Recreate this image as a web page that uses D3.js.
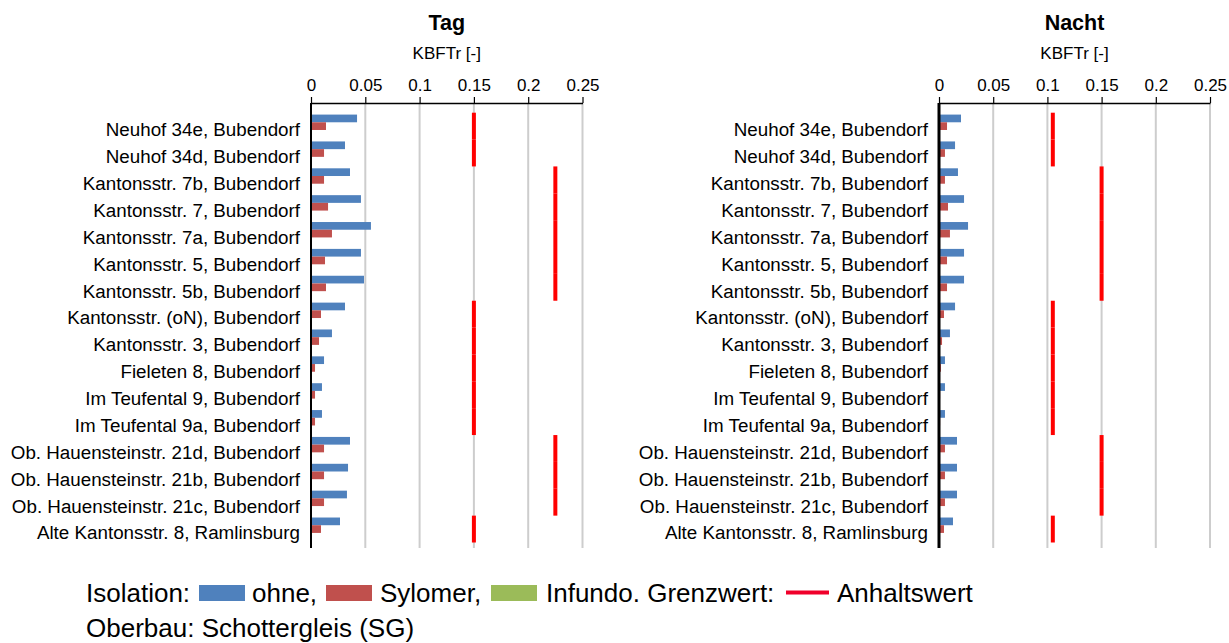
<!DOCTYPE html>
<html>
<head>
<meta charset="utf-8">
<script src="https://cdn.jsdelivr.net/npm/d3@7"></script>
<style>
  body { margin: 0; background: #fff; }
  svg { display: block; }
  text { font-family: "Liberation Sans", Arial, sans-serif; fill: #000; }
</style>
</head>
<body>
<svg id="chart" width="1229" height="643"></svg>
<script>
const categories = [
  "Neuhof 34e, Bubendorf",
  "Neuhof 34d, Bubendorf",
  "Kantonsstr. 7b, Bubendorf",
  "Kantonsstr. 7, Bubendorf",
  "Kantonsstr. 7a, Bubendorf",
  "Kantonsstr. 5, Bubendorf",
  "Kantonsstr. 5b, Bubendorf",
  "Kantonsstr. (oN), Bubendorf",
  "Kantonsstr. 3, Bubendorf",
  "Fieleten 8, Bubendorf",
  "Im Teufental 9, Bubendorf",
  "Im Teufental 9a, Bubendorf",
  "Ob. Hauensteinstr. 21d, Bubendorf",
  "Ob. Hauensteinstr. 21b, Bubendorf",
  "Ob. Hauensteinstr. 21c, Bubendorf",
  "Alte Kantonsstr. 8, Ramlinsburg"
];
const seriesNames = ["ohne", "Sylomer", "Infundo"];
const tagOhne     = [0.0424,0.0313,0.0359,0.0460,0.0552,0.0460,0.0488,0.0313,0.0193,0.0120,0.0101,0.0101,0.0359,0.0341,0.0331,0.0267];
const tagSylomer  = [0.0138,0.0120,0.0120,0.0157,0.0193,0.0129,0.0138,0.0092,0.0074,0.0037,0.0037,0.0037,0.0120,0.0120,0.0120,0.0092];
const tagInfundo  = [0,0,0,0,0,0,0,0,0,0,0,0,0,0,0,0];
const tagAnhalt   = [0.15,0.15,0.225,0.225,0.225,0.225,0.225,0.15,0.15,0.15,0.15,0.15,0.225,0.225,0.225,0.15];
const nachtOhne    = [0.0203,0.0148,0.0175,0.0231,0.0268,0.0231,0.0231,0.0148,0.0101,0.0055,0.0055,0.0055,0.0166,0.0166,0.0166,0.0129];
const nachtSylomer = [0.0074,0.0055,0.0055,0.0083,0.0101,0.0074,0.0074,0.0046,0.0028,0.0018,0.0010,0.0010,0.0055,0.0055,0.0055,0.0046];
const nachtInfundo = [0,0,0,0,0,0,0,0,0,0,0,0,0,0,0,0];
const nachtAnhalt  = [0.105,0.105,0.15,0.15,0.15,0.15,0.15,0.105,0.105,0.105,0.105,0.105,0.15,0.15,0.15,0.105];
const tickValues = [0, 0.05, 0.1, 0.15, 0.2, 0.25];
const tickLabels = ["0", "0.05", "0.1", "0.15", "0.2", "0.25"];
const titles = ["Tag", "Nacht"];
const axisTitle = "KBFTr [-]";

const colors = { ohne: "#4F81BD", Sylomer: "#C0504D", Infundo: "#9BBB59", line: "#FF0000" };
const svg = d3.select("#chart");

const panels = [
  { title: titles[0], x0: 311, x1: 582.5, series: [tagOhne, tagSylomer, tagInfundo], anhalt: tagAnhalt, axisW: 2 },
  { title: titles[1], x0: 939, x1: 1210, series: [nachtOhne, nachtSylomer, nachtInfundo], anhalt: nachtAnhalt, axisW: 3 }
];

const axisY = 103, plotBottom = 548;
const y = d3.scaleBand().domain(categories).range([112.7, 542.5]).paddingInner(0.14).paddingOuter(0.07);
const ySeries = d3.scaleBand().domain(seriesNames).range([0, y.bandwidth()]);

panels.forEach(p => {
  const x = d3.scaleLinear().domain([0, 0.25]).range([p.x0, p.x1]);
  const g = svg.append("g");

  g.selectAll("line.grid").data(tickValues.filter(v => v > 0)).enter().append("line")
    .attr("x1", d => x(d)).attr("x2", d => x(d))
    .attr("y1", axisY).attr("y2", plotBottom)
    .attr("stroke", "#cdcdcd").attr("stroke-width", 2);

  seriesNames.forEach((s, si) => {
    g.selectAll("rect.s" + si).data(p.series[si].map((v, i) => ({ v, c: categories[i] })).filter(d => d.v > 0))
      .enter().append("rect")
      .attr("x", x(0))
      .attr("y", d => y(d.c) + ySeries(s))
      .attr("width", d => x(d.v) - x(0))
      .attr("height", ySeries.bandwidth())
      .attr("fill", colors[s]);
  });

  const step = y.step();
  const bandStart = c => y(c) - y.paddingOuter() * step;
  g.selectAll("line.anh").data(p.anhalt.map((v, i) => ({ v, c: categories[i] }))).enter().append("line")
    .attr("x1", d => x(d.v)).attr("x2", d => x(d.v))
    .attr("y1", d => bandStart(d.c)).attr("y2", d => bandStart(d.c) + step)
    .attr("stroke", colors.line).attr("stroke-width", 4);

  const axis = d3.axisTop(x).tickValues(tickValues)
    .tickFormat((d, i) => tickLabels[i]).tickSize(6).tickSizeOuter(0).tickPadding(6);
  const ag = g.append("g").attr("transform", `translate(0,${axisY})`).call(axis);
  ag.select(".domain").attr("stroke", "#000").attr("stroke-width", 1.5);
  ag.selectAll(".tick line").attr("stroke", "#000").attr("stroke-width", 1.2);
  ag.selectAll(".tick text").style("font-family", "'Liberation Sans', Arial, sans-serif").style("font-size", "17px").attr("fill", "#000");

  g.append("line").attr("x1", x(0)).attr("x2", x(0)).attr("y1", axisY).attr("y2", plotBottom)
    .attr("stroke", "#000").attr("stroke-width", p.axisW);

  g.selectAll("text.cat").data(categories).enter().append("text")
    .attr("x", x(0) - 11)
    .attr("y", d => bandStart(d) + step / 2 + 10.3)
    .attr("text-anchor", "end")
    .style("font-size", "18.8px")
    .text(d => d);

  const cx = (p.x0 + p.x1) / 2;
  g.append("text").attr("x", cx).attr("y", 30).attr("text-anchor", "middle")
    .style("font-size", "21.5px").style("font-weight", "bold").text(p.title);
  g.append("text").attr("x", cx).attr("y", 59).attr("text-anchor", "middle")
    .style("font-size", "17px").text(axisTitle);
});

const lg = svg.append("g").style("font-size", "26px");
lg.append("text").attr("x", 86).attr("y", 601.5).text("Isolation:");
lg.append("rect").attr("x", 199).attr("y", 585).attr("width", 46).attr("height", 16).attr("fill", colors.ohne);
lg.append("text").attr("x", 252).attr("y", 601.5).text("ohne,");
lg.append("rect").attr("x", 326).attr("y", 585).attr("width", 46).attr("height", 16).attr("fill", colors.Sylomer);
lg.append("text").attr("x", 380).attr("y", 601.5).text("Sylomer,");
lg.append("rect").attr("x", 491).attr("y", 585).attr("width", 46).attr("height", 16).attr("fill", colors.Infundo);
lg.append("text").attr("x", 546).attr("y", 601.5).text("Infundo. Grenzwert:");
lg.append("line").attr("x1", 786).attr("x2", 829).attr("y1", 592.5).attr("y2", 592.5)
  .attr("stroke", "#F0002A").attr("stroke-width", 4);
lg.append("text").attr("x", 837).attr("y", 601.5).text("Anhaltswert");
lg.append("text").attr("x", 86).attr("y", 637).text("Oberbau: Schottergleis (SG)");
</script>
</body>
</html>
